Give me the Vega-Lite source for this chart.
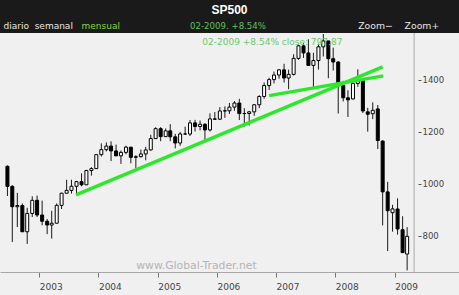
{
  "$schema": "https://vega.github.io/schema/vega-lite/v6.json",
  "width": 459,
  "height": 262,
  "autosize": {"type": "none"},
  "padding": {"top": 33, "left": 0, "right": 0, "bottom": 0},
  "background": "#1a1a1a",
  "title": {
    "text": "SP500\u00a0\u00a0\u00a0",
    "anchor": "middle",
    "frame": "group",
    "color": "#ffffff",
    "font": "Liberation Sans",
    "fontSize": 12,
    "fontWeight": "bold",
    "offset": 5
  },
  "config": {
    "view": {"stroke": null, "fill": "#f0f0f0"}
  },
  "resolve": {"axis": {"x": "independent", "y": "independent"}},
  "datasets": {
    "ohlc": [
      {"d": "2002-06-19", "o": 1067.14, "h": 1070.74, "l": 952.92, "c": 989.82},
      {"d": "2002-07-19", "o": 989.82, "h": 994.46, "l": 775.68, "c": 911.62},
      {"d": "2002-08-19", "o": 911.62, "h": 965.0, "l": 833.44, "c": 916.07},
      {"d": "2002-09-19", "o": 916.07, "h": 924.02, "l": 815.28, "c": 815.28},
      {"d": "2002-10-19", "o": 815.28, "h": 907.44, "l": 768.63, "c": 885.76},
      {"d": "2002-11-19", "o": 885.76, "h": 951.57, "l": 872.15, "c": 936.31},
      {"d": "2002-12-19", "o": 936.31, "h": 954.28, "l": 871.84, "c": 879.82},
      {"d": "2003-01-19", "o": 879.82, "h": 935.05, "l": 840.34, "c": 855.7},
      {"d": "2003-02-19", "o": 855.7, "h": 864.64, "l": 806.29, "c": 841.15},
      {"d": "2003-03-19", "o": 841.15, "h": 895.9, "l": 788.9, "c": 848.18},
      {"d": "2003-04-19", "o": 848.18, "h": 924.24, "l": 847.85, "c": 916.92},
      {"d": "2003-05-19", "o": 916.92, "h": 965.38, "l": 902.83, "c": 963.59},
      {"d": "2003-06-19", "o": 963.59, "h": 1015.33, "l": 963.59, "c": 974.5},
      {"d": "2003-07-19", "o": 974.5, "h": 1015.41, "l": 962.1, "c": 990.31},
      {"d": "2003-08-19", "o": 990.31, "h": 1011.01, "l": 960.84, "c": 1008.01},
      {"d": "2003-09-19", "o": 1008.01, "h": 1040.29, "l": 990.36, "c": 995.97},
      {"d": "2003-10-19", "o": 995.97, "h": 1053.79, "l": 995.97, "c": 1050.71},
      {"d": "2003-11-19", "o": 1050.71, "h": 1063.65, "l": 1031.2, "c": 1058.2},
      {"d": "2003-12-19", "o": 1058.2, "h": 1112.56, "l": 1058.2, "c": 1111.92},
      {"d": "2004-01-19", "o": 1111.92, "h": 1155.38, "l": 1105.08, "c": 1131.13},
      {"d": "2004-02-19", "o": 1131.13, "h": 1158.98, "l": 1124.44, "c": 1144.94},
      {"d": "2004-03-19", "o": 1144.94, "h": 1163.23, "l": 1087.16, "c": 1126.21},
      {"d": "2004-04-19", "o": 1126.21, "h": 1150.57, "l": 1107.23, "c": 1107.3},
      {"d": "2004-05-19", "o": 1107.3, "h": 1127.74, "l": 1076.32, "c": 1120.68},
      {"d": "2004-06-19", "o": 1120.68, "h": 1146.34, "l": 1113.32, "c": 1140.84},
      {"d": "2004-07-19", "o": 1140.84, "h": 1140.84, "l": 1078.78, "c": 1101.72},
      {"d": "2004-08-19", "o": 1101.72, "h": 1109.68, "l": 1060.72, "c": 1104.24},
      {"d": "2004-09-19", "o": 1104.24, "h": 1131.54, "l": 1101.29, "c": 1114.58},
      {"d": "2004-10-19", "o": 1114.58, "h": 1142.05, "l": 1090.19, "c": 1130.2},
      {"d": "2004-11-19", "o": 1130.2, "h": 1188.46, "l": 1127.6, "c": 1173.82},
      {"d": "2004-12-19", "o": 1173.82, "h": 1217.33, "l": 1173.76, "c": 1211.92},
      {"d": "2005-01-19", "o": 1211.92, "h": 1217.8, "l": 1163.75, "c": 1181.27},
      {"d": "2005-02-19", "o": 1181.27, "h": 1212.44, "l": 1180.95, "c": 1203.6},
      {"d": "2005-03-19", "o": 1203.6, "h": 1229.11, "l": 1163.69, "c": 1180.59},
      {"d": "2005-04-19", "o": 1180.59, "h": 1191.88, "l": 1136.15, "c": 1156.85},
      {"d": "2005-05-19", "o": 1156.85, "h": 1199.56, "l": 1146.18, "c": 1191.5},
      {"d": "2005-06-19", "o": 1191.5, "h": 1219.59, "l": 1188.3, "c": 1191.33},
      {"d": "2005-07-19", "o": 1191.33, "h": 1245.15, "l": 1183.55, "c": 1234.18},
      {"d": "2005-08-19", "o": 1234.18, "h": 1245.86, "l": 1201.07, "c": 1220.33},
      {"d": "2005-09-19", "o": 1220.33, "h": 1243.13, "l": 1205.35, "c": 1228.81},
      {"d": "2005-10-19", "o": 1228.81, "h": 1233.34, "l": 1168.2, "c": 1207.01},
      {"d": "2005-11-19", "o": 1207.01, "h": 1270.64, "l": 1201.07, "c": 1249.48},
      {"d": "2005-12-19", "o": 1249.48, "h": 1275.8, "l": 1246.59, "c": 1248.29},
      {"d": "2006-01-19", "o": 1248.29, "h": 1294.9, "l": 1245.74, "c": 1280.08},
      {"d": "2006-02-19", "o": 1280.08, "h": 1297.57, "l": 1253.61, "c": 1280.66},
      {"d": "2006-03-19", "o": 1280.66, "h": 1310.88, "l": 1268.42, "c": 1294.83},
      {"d": "2006-04-19", "o": 1294.83, "h": 1318.16, "l": 1280.74, "c": 1310.61},
      {"d": "2006-05-19", "o": 1310.61, "h": 1326.7, "l": 1245.34, "c": 1270.09},
      {"d": "2006-06-19", "o": 1270.09, "h": 1290.68, "l": 1219.29, "c": 1270.2},
      {"d": "2006-07-19", "o": 1270.2, "h": 1280.42, "l": 1224.54, "c": 1276.66},
      {"d": "2006-08-19", "o": 1276.66, "h": 1306.74, "l": 1261.3, "c": 1303.82},
      {"d": "2006-09-19", "o": 1303.82, "h": 1340.28, "l": 1290.93, "c": 1335.85},
      {"d": "2006-10-19", "o": 1335.85, "h": 1389.45, "l": 1327.1, "c": 1377.94},
      {"d": "2006-11-19", "o": 1377.94, "h": 1407.89, "l": 1360.98, "c": 1400.63},
      {"d": "2006-12-19", "o": 1400.63, "h": 1431.81, "l": 1385.93, "c": 1418.3},
      {"d": "2007-01-19", "o": 1418.3, "h": 1441.61, "l": 1403.97, "c": 1438.24},
      {"d": "2007-02-19", "o": 1438.24, "h": 1461.57, "l": 1389.42, "c": 1406.82},
      {"d": "2007-03-19", "o": 1406.82, "h": 1438.89, "l": 1363.98, "c": 1420.86},
      {"d": "2007-04-19", "o": 1420.86, "h": 1498.02, "l": 1416.37, "c": 1482.37},
      {"d": "2007-05-19", "o": 1482.37, "h": 1535.56, "l": 1476.7, "c": 1530.62},
      {"d": "2007-06-19", "o": 1530.62, "h": 1540.56, "l": 1484.18, "c": 1503.35},
      {"d": "2007-07-19", "o": 1503.35, "h": 1555.9, "l": 1454.25, "c": 1455.27},
      {"d": "2007-08-19", "o": 1455.27, "h": 1503.89, "l": 1370.6, "c": 1473.99},
      {"d": "2007-09-19", "o": 1473.99, "h": 1538.74, "l": 1439.29, "c": 1526.75},
      {"d": "2007-10-19", "o": 1526.75, "h": 1576.09, "l": 1489.56, "c": 1549.38},
      {"d": "2007-11-19", "o": 1549.38, "h": 1550.05, "l": 1406.1, "c": 1481.14},
      {"d": "2007-12-19", "o": 1481.14, "h": 1523.57, "l": 1435.65, "c": 1468.36},
      {"d": "2008-01-19", "o": 1468.36, "h": 1471.77, "l": 1270.05, "c": 1378.55},
      {"d": "2008-02-19", "o": 1378.55, "h": 1396.02, "l": 1316.75, "c": 1330.63},
      {"d": "2008-03-19", "o": 1330.63, "h": 1359.68, "l": 1256.98, "c": 1322.7},
      {"d": "2008-04-19", "o": 1326.41, "h": 1404.57, "l": 1324.35, "c": 1385.59},
      {"d": "2008-05-19", "o": 1385.97, "h": 1440.24, "l": 1373.07, "c": 1400.38},
      {"d": "2008-06-19", "o": 1399.04, "h": 1404.05, "l": 1272.0, "c": 1280.0},
      {"d": "2008-07-19", "o": 1276.69, "h": 1292.17, "l": 1200.44, "c": 1267.38},
      {"d": "2008-08-19", "o": 1269.42, "h": 1313.15, "l": 1248.64, "c": 1282.83},
      {"d": "2008-09-19", "o": 1287.83, "h": 1303.04, "l": 1133.5, "c": 1166.36},
      {"d": "2008-10-19", "o": 1164.17, "h": 1167.03, "l": 839.8, "c": 968.75},
      {"d": "2008-11-19", "o": 968.67, "h": 1007.51, "l": 741.02, "c": 896.24},
      {"d": "2008-12-19", "o": 888.61, "h": 918.85, "l": 815.69, "c": 903.25},
      {"d": "2009-01-19", "o": 902.99, "h": 943.85, "l": 804.3, "c": 825.88},
      {"d": "2009-02-19", "o": 823.09, "h": 875.01, "l": 734.52, "c": 735.09},
      {"d": "2009-03-19", "o": 729.57, "h": 832.98, "l": 666.79, "c": 797.87}
    ],
    "trend": [
      {"line": "A", "d": "2003-08-16", "v": 957},
      {"line": "A", "d": "2008-10-19", "v": 1450},
      {"line": "B", "d": "2006-11-19", "v": 1339},
      {"line": "B", "d": "2008-10-23", "v": 1415}
    ],
    "notes": [
      {"label": "02-2009 +8.54% close: 797.87"}
    ],
    "mark": [
      {"label": "www.Global-Trader.net"}
    ]
  },
  "layer": [
    {
      "data": {"name": "ohlc"},
      "mark": {"type": "rule", "color": "#1a1a1a", "strokeWidth": 1},
      "encoding": {
        "x": {
          "field": "d",
          "type": "temporal",
          "scale": {
            "type": "utc",
            "domain": [
              {"year": 2002, "month": 6, "date": 4, "utc": true},
              {"year": 2010, "month": 1, "date": 2, "utc": true}
            ]
          },
          "axis": {
            "orient": "bottom",
            "offset": -23,
            "format": "%Y",
            "values": [
              {"year": 2003, "month": 1, "date": 1, "utc": true},
              {"year": 2004, "month": 1, "date": 1, "utc": true},
              {"year": 2005, "month": 1, "date": 1, "utc": true},
              {"year": 2006, "month": 1, "date": 1, "utc": true},
              {"year": 2007, "month": 1, "date": 1, "utc": true},
              {"year": 2008, "month": 1, "date": 1, "utc": true},
              {"year": 2009, "month": 1, "date": 1, "utc": true}
            ],
            "grid": false,
            "labelAlign": "left",
            "labelFlush": false,
            "labelOverlap": false,
            "labelPadding": 5,
            "tickSize": 5,
            "domainColor": "#a8a8a8",
            "tickColor": "#777777",
            "labelColor": "#444444",
            "labelFont": "DejaVu Sans",
            "labelFontSize": 9,
            "title": "02-2009. +8.54%",
            "titleColor": "#5cc25c",
            "titleFont": "DejaVu Sans",
            "titleFontSize": 8.6,
            "titleFontWeight": "normal",
            "titleAlign": "center",
            "titleBaseline": "middle",
            "titleX": 227.5,
            "titleY": -246.5
          }
        },
        "y": {
          "field": "l",
          "type": "quantitative",
          "scale": {"domain": [572, 1580], "zero": false, "nice": false},
          "axis": {
            "orient": "right",
            "offset": -41,
            "values": [800, 1000, 1200, 1400],
            "format": "d",
            "grid": false,
            "domain": false,
            "tickSize": 3,
            "labelPadding": 1,
            "tickColor": "#555555",
            "labelColor": "#444444",
            "labelFont": "DejaVu Sans",
            "labelFontSize": 8.5,
            "title": "mensual",
            "titleAngle": 0,
            "titleColor": "#86d63c",
            "titleFont": "DejaVu Sans",
            "titleFontSize": 9,
            "titleFontWeight": "normal",
            "titleAlign": "left",
            "titleBaseline": "middle",
            "titleX": -337,
            "titleY": -7.5
          }
        },
        "y2": {"field": "h"}
      }
    },
    {
      "data": {"name": "ohlc"},
      "mark": {"type": "bar", "width": 3, "stroke": "#000000", "strokeWidth": 1},
      "encoding": {
        "x": {"field": "d", "type": "temporal", "axis": null},
        "y": {"field": "o", "type": "quantitative", "axis": null},
        "y2": {"field": "c"},
        "fill": {
          "condition": {"test": "datum.c >= datum.o", "value": "#ffffff"},
          "value": "#000000"
        }
      }
    },
    {
      "data": {"name": "trend"},
      "mark": {"type": "line", "color": "#2ee62e", "strokeWidth": 3.5, "strokeCap": "butt"},
      "encoding": {
        "x": {"field": "d", "type": "temporal", "axis": null},
        "y": {"field": "v", "type": "quantitative", "axis": null},
        "detail": {"field": "line"}
      }
    },
    {
      "data": {"values": [{}]},
      "mark": {"type": "rule", "color": "#a8a8a8", "strokeWidth": 1},
      "encoding": {
        "x": {"datum": {"year": 2009, "month": 5, "date": 1, "utc": true}, "type": "temporal", "axis": null},
        "y": {"datum": 661, "axis": null},
        "y2": {"datum": 1580}
      }
    },
    {
      "data": {"name": "notes"},
      "mark": {"type": "text", "align": "left", "baseline": "middle", "font": "DejaVu Sans", "fontSize": 9, "color": "#6cc86c"},
      "encoding": {
        "x": {"datum": {"year": 2005, "month": 10, "date": 3, "utc": true}, "type": "temporal", "axis": null},
        "y": {"datum": 1547, "axis": null},
        "text": {"field": "label"}
      }
    },
    {
      "data": {"name": "mark"},
      "mark": {"type": "text", "align": "center", "baseline": "middle", "font": "DejaVu Sans", "fontSize": 10.8, "color": "#b4b4b4"},
      "encoding": {
        "x": {
          "datum": {"year": 2005, "month": 8, "date": 28, "utc": true},
          "type": "temporal",
          "axis": {
            "orient": "top",
            "labels": false,
            "ticks": false,
            "domain": false,
            "grid": false,
            "title": "Zoom\u2212\u00a0\u00a0\u00a0\u00a0Zoom+",
            "titleColor": "#e6e6e6",
            "titleFont": "DejaVu Sans",
            "titleFontSize": 9.3,
            "titleFontWeight": "normal",
            "titleAlign": "left",
            "titleBaseline": "middle",
            "titleX": 357.7,
            "titleY": -7.5
          }
        },
        "y": {
          "datum": 685,
          "axis": {
            "orient": "left",
            "labels": false,
            "ticks": false,
            "domain": false,
            "grid": false,
            "title": "diario\u00a0\u00a0semanal",
            "titleAngle": 0,
            "titleColor": "#e6e6e6",
            "titleFont": "DejaVu Sans",
            "titleFontSize": 9,
            "titleFontWeight": "normal",
            "titleAlign": "left",
            "titleBaseline": "middle",
            "titleX": 3,
            "titleY": -7.5
          }
        },
        "text": {"field": "label"}
      }
    }
  ]
}
